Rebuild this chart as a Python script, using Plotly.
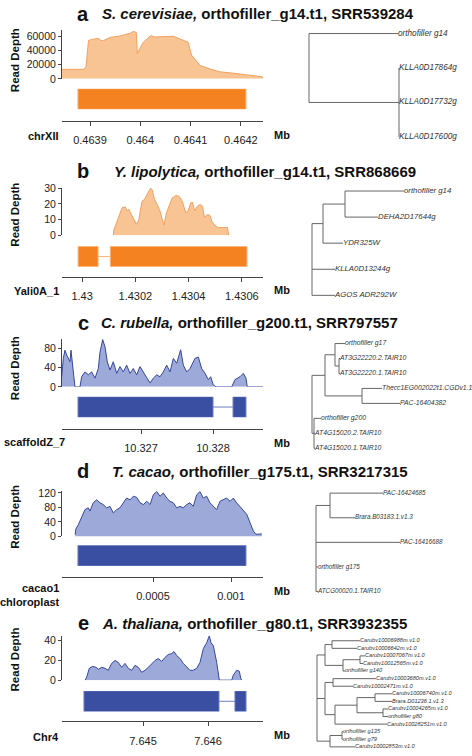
import plotly.graph_objects as go

W, H = 472, 756
FONT = "Liberation Sans, Arial, sans-serif"

# ---------------- data ----------------
# coverage: genomic position (bp) and read depth
a_pos = [463844, 463887, 463892, 463897, 463903, 463917, 463920, 463926, 463940, 463960,
         463980, 463986, 463992, 463994, 463998, 464006, 464021, 464029, 464066, 464079,
         464095, 464102, 464119, 464139, 464158, 464185, 464212, 464231, 464244]
a_depth = [13500, 13500, 17000, 54500, 56000, 57500, 55000, 54000, 59000, 61000,
           65000, 67500, 66000, 36000, 42000, 52000, 61500, 59500, 60500, 57000,
           52000, 33500, 19000, 14000, 10000, 8000, 6000, 4000, 2500]

b_pos = [1430118, 1430118, 1430125, 1430137, 1430150, 1430162, 1430169, 1430175, 1430185, 1430194,
         1430204, 1430213, 1430225, 1430234, 1430244, 1430257, 1430263, 1430272, 1430282, 1430292,
         1430301, 1430307, 1430317, 1430326, 1430338, 1430351, 1430364, 1430376, 1430382, 1430389,
         1430398, 1430408, 1430414, 1430423, 1430433, 1430443, 1430452, 1430460, 1430471, 1430481,
         1430489, 1430502, 1430508, 1430546, 1430550, 1430550]
b_depth = [0, 3, 6, 11, 17.5, 18, 15.5, 16.5, 13.3, 11,
           7, 10, 21.7, 22.7, 25.8, 30, 29, 22.7, 19.6, 15.5,
           10.2, 6.5, 14.4, 18.5, 23.7, 25.2, 24.8, 21.7, 18.5, 14.4,
           15.5, 20.6, 21, 15.5, 18.5, 19.6, 18.5, 11.2, 13.3, 12.3,
           8.1, 6, 5, 5, 2, 0]

c_pos = [10325899, 10325921, 10325944, 10325968, 10326014, 10326028, 10326060, 10326083, 10326153, 10326176,
         10326222, 10326268, 10326315, 10326361, 10326407, 10326431, 10326468, 10326500, 10326532, 10326569,
         10326615, 10326663, 10326708, 10326754, 10326801, 10326847, 10326893, 10326940, 10326986, 10327032,
         10327079, 10327125, 10327171, 10327218, 10327264, 10327310, 10327357, 10327403, 10327449, 10327496,
         10327551, 10327588, 10327635, 10327681, 10327750, 10327796, 10327843, 10327889, 10327935, 10327968,
         10328004, 10328042, 10328260, 10328306, 10328375, 10328421, 10328458, 10328476, 10328699]
c_depth = [21, 59, 76, 66, 52, 76, 31, 0, 0, 21,
           31, 25, 31, 18, 38, 72, 98, 83, 52, 35,
           52, 28, 42, 31, 45, 28, 38, 25, 42, 31,
           18, 8, 18, 25, 21, 31, 45, 31, 59, 49,
           77, 45, 31, 38, 59, 62, 38, 28, 15, 21,
           4, 0, 0, 15, 21, 28, 18, 0, 0]

d_pos = [1, 5, 21, 43, 64, 85, 96, 117, 139, 160,
         181, 203, 224, 246, 267, 288, 310, 331, 353, 374,
         395, 417, 438, 460, 481, 502, 524, 545, 566, 588,
         609, 630, 652, 673, 694, 716, 737, 758, 780, 801,
         822, 844, 865, 886, 908, 929, 951, 972, 994, 1015,
         1036, 1058, 1079, 1101, 1122, 1143, 1160, 1175, 1197]
d_depth = [5, 20, 32, 56, 74, 79, 70, 93, 101, 93,
           88, 79, 83, 65, 74, 79, 93, 106, 101, 111,
           108, 93, 88, 97, 88, 115, 124, 111, 120, 106,
           97, 93, 79, 83, 79, 88, 93, 83, 115, 124,
           106, 111, 93, 83, 74, 97, 101, 106, 97, 106,
           93, 83, 74, 61, 38, 15, 6, 6, 7]

e_pos = [7644108, 7644134, 7644174, 7644226, 7644277, 7644312, 7644365, 7644415, 7644466, 7644518,
         7644569, 7644620, 7644672, 7644723, 7644774, 7644826, 7644877, 7644928, 7644980, 7645031,
         7645082, 7645134, 7645185, 7645235, 7645288, 7645338, 7645389, 7645442, 7645477, 7645518,
         7645569, 7645620, 7645672, 7645723, 7645774, 7645826, 7645877, 7645928, 7645980, 7646020,
         7646046, 7646082, 7646134, 7646158, 7646174, 7646365, 7646389, 7646442, 7646482, 7646503,
         7646518]
e_depth = [0, 3, 12, 14, 13, 11, 13, 12, 10, 17,
           20, 18, 13, 17, 12, 10, 15, 13, 8, 10,
           13, 17, 20, 22, 19, 23, 26, 27, 29, 25,
           22, 17, 13, 10, 10, 12, 18, 32, 38, 45,
           38, 35, 18, 5, 0, 0, 5, 10, 9, 2,
           0]

# gene models: exon start/end (bp)
a_exons = [(463876, 464210)]
b_exons = [(1429985, 1430060), (1430106, 1430619)]
c_exons = [(10326125, 10328000), (10328278, 10328458)]
d_exons = [(19, 1096)]
e_exons = [(7644092, 7646169), (7646415, 7646585)]

# tick values / labels
a_xticks, a_xlabels = [0.4639, 0.464, 0.4641, 0.4642], ["0.4639", "0.464", "0.4641", "0.4642"]
b_xticks, b_xlabels = [1.43, 1.4302, 1.4304, 1.4306], ["1.43", "1.4302", "1.4304", "1.4306"]
c_xticks, c_xlabels = [10.327, 10.328], ["10.327", "10.328"]
d_xticks, d_xlabels = [0.0005, 0.001], ["0.0005", "0.001"]
e_xticks, e_xlabels = [7.645, 7.646], ["7.645", "7.646"]
a_yticks = [0, 20000, 40000, 60000]
b_yticks = [0, 10, 20, 30]
c_yticks = [0, 40, 80]
d_yticks = [0, 40, 80, 120]
e_yticks = [0, 20, 40]

# gene trees: (label, branch length, children)
tree_a = [("orthofiller g14", 89, None),
          ("", 90, [("KLLA0D17864g", 0, None), ("KLLA0D17732g", 0, None), ("KLLA0D17600g", 0, None)])]
tree_b = [("", 11, [("", 22, [("orthofiller g14", 59, None), ("DEHA2D17644g", 33, None)]),
                    ("YDR325W", 20, None)]),
          ("KLLA0D13244g", 23, None),
          ("AGOS ADR292W", 23, None)]
tree_c = [("", 13, [("", 10, [("orthofiller g17", 10, None),
                              ("", 4, [("AT3G22220.2.TAIR10", 1, None), ("AT3G22220.1.TAIR10", 1, None)])]),
                    ("", 37, [("Thecc1EG002022t1.CGDv1.1", 20, None), ("PAC-16404382", 38, None)])]),
          ("", 2, [("orthofiller g200", 7, None), ("AT4G15020.2.TAIR10", 1, None),
                   ("AT4G15020.1.TAIR10", 1, None)])]
tree_d = [("", 14, [("PAC-16424685", 53, None), ("Brara.B03183.1.v1.3", 25, None)]),
          ("PAC-16416688", 84, None),
          ("orthofiller g175", 2, None),
          ("ATCG00020.1.TAIR10", 2, None)]
tree_e = [("", 8, [("", 7, [("Carubv10006988m.v1.0", 28, None), ("Carubv10006642m.v1.0", 25, None)]),
                   ("", 18, [("", 17, [("Carubv10007067m.v1.0", 5, None), ("Carubv10012565m.v1.0", 3, None)]),
                             ("orthofiller g140", 2, None)])]),
          ("", 8, [("", 8, [("Carubv10003680m.v1.0", 43, None), ("Carubv10002471m.v1.0", 20, None)]),
                   ("", 10, [("", 22, [("", 18, [("Carubv10006740m.v1.0", 17, None), ("Brara.D01236.1.v1.3", 17, None)]),
                                       ("", 26, [("Carubv10004265m.v1.0", 5, None), ("orthofiller g80", 5, None)])]),
                             ("Carubv10028251m.v1.0", 52, None)])]),
          ("", 13, [("", 12, [("orthofiller g135", 1, None), ("orthofiller g79", 1, None)]),
                    ("Carubv10002853m.v1.0", 25, None)])]

ORANGE = dict(gene="#F58220", edge="#F9B57A", fill="#F9C494", line="#F0A060")
BLUE = dict(gene="#3A4EA2", edge="#6F7EC0", fill="#9DAAD9", line="#34479B")

panels = [
    dict(letter="a", species="S. cerevisiae,", rest=" orthofiller_g14.t1, SRR539284", tx=100, ty=8,
         chrom="chrXII", cx=61, cy=132, pos=a_pos, depth=a_depth, exons=a_exons, col=ORANGE,
         xr=[0.4638443, 0.4642439], xt=a_xticks, xl=a_xlabels, yt=a_yticks, yr=[0, 70000],
         cov=(24, 74), gene=(84, 105), axy=117, rd=55,
         tree=tree_a, root=309, leaf0=28, dy=35, tfs=8.2),
    dict(letter="b", species="Y. lipolytica,", rest=" orthofiller_g14.t1, SRR868669", tx=112, ty=168,
         chrom="Yali0A_1", cx=61, cy=290, pos=b_pos, depth=b_depth, exons=b_exons, col=ORANGE,
         xr=[1.4299245, 1.4306792], xt=b_xticks, xl=b_xlabels, yt=b_yticks, yr=[0, 30],
         cov=(185, 233), gene=(244, 265), axy=275, rd=212,
         tree=tree_b, root=312, leaf0=188, dy=26.5, tfs=7.8),
    dict(letter="c", species="C. rubella,", rest=" orthofiller_g200.t1, SRR797557", tx=99, ty=322,
         chrom="scaffoldZ_7", cx=67, cy=443, pos=c_pos, depth=c_depth, exons=c_exons, col=BLUE,
         xr=[10.3259028, 10.3286944], xt=c_xticks, xl=c_xlabels, yt=c_yticks, yr=[0, 100],
         cov=(338, 387), gene=(397, 418), axy=430, rd=368,
         tree=tree_c, root=312, leaf0=343, dy=15.2, tfs=6.8),
    dict(letter="d", species="T. cacao,", rest=" orthofiller_g175.t1, SRR3217315", tx=110, ty=473,
         chrom="cacao1<br>chloroplast", cx=62, cy=598, pos=d_pos, depth=d_depth, exons=d_exons, col=BLUE,
         xr=[-0.0000833, 0.0012051], xt=d_xticks, xl=d_xlabels, yt=d_yticks, yr=[0, 125],
         cov=(493, 539), gene=(548, 569), axy=580, rd=519,
         tree=tree_d, root=316, leaf0=495, dy=25, tfs=6.3),
    dict(letter="e", species="A. thaliana,", rest=" orthofiller_g80.t1, SRR3932355", tx=100, ty=627,
         chrom="Chr4", cx=61, cy=743, pos=e_pos, depth=e_depth, exons=e_exons, col=BLUE,
         xr=[7.6437538, 7.6468462], xt=e_xticks, xl=e_xlabels, yt=e_yticks, yr=[0, 45],
         cov=(640, 685), gene=(696, 717), axy=727, rd=664,
         tree=tree_e, root=317, leaf0=645, dy=7.7, tfs=5.6),
]


def py(v):
    return 1 - v / H


def tree_layout(children, x0, y0, dy):
    xs, ys, labels = [], [], []
    n = [0]

    def walk(node, xp):
        name, length, kids = node
        x = xp + length
        if kids is None:
            y = y0 + n[0] * dy
            n[0] += 1
            labels.append((x, y, name))
        else:
            cy = [walk(k, x) for k in kids]
            y = (cy[0] + cy[-1]) / 2
            xs.extend([x, x, None]); ys.extend([cy[0], cy[-1], None])
        xs.extend([xp, x, None]); ys.extend([y, y, None])
        return y

    top = [walk(c, x0) for c in children]
    xs.extend([x0, x0, None]); ys.extend([top[0], top[-1], None])
    return xs, ys, labels


fig = go.Figure()
annotations = []
layout_axes = {}

for k, p in enumerate(panels):
    xn, yc, yg = k + 1, 2 * k + 1, 2 * k + 2
    xref = "x" if xn == 1 else f"x{xn}"
    ycref = "y" if yc == 1 else f"y{yc}"
    ygref = f"y{yg}"
    col = p["col"]

    fig.add_trace(go.Scatter(
        x=[v / 1e6 for v in p["pos"]], y=p["depth"], xaxis=xref, yaxis=ycref,
        mode="lines", line=dict(color=col["line"], width=1),
        fill="tozeroy", fillcolor=col["fill"], hoverinfo="skip", showlegend=False))

    ex = p["exons"]
    for s, e in ex:
        fig.add_shape(type="rect", xref=xref, yref=ygref, x0=s / 1e6, x1=e / 1e6, y0=0, y1=1,
                      fillcolor=col["gene"], line=dict(color=col["edge"], width=1))
    for (s1, e1), (s2, e2) in zip(ex, ex[1:]):
        fig.add_shape(type="line", xref=xref, yref=ygref, x0=e1 / 1e6, x1=s2 / 1e6, y0=0.5, y1=0.5,
                      line=dict(color=col["edge"], width=1))

    layout_axes["xaxis" if xn == 1 else f"xaxis{xn}"] = dict(
        domain=[62 / W, 263 / W], range=p["xr"], anchor="free", position=py(p["axy"]),
        showline=True, linecolor="#444", linewidth=1, ticks="outside", ticklen=4, tickcolor="#444",
        tickvals=p["xt"], ticktext=p["xl"], tickfont=dict(size=11, color="#222"),
        ticklabelstandoff=5, showgrid=False, zeroline=False, fixedrange=True)
    layout_axes["yaxis" if yc == 1 else f"yaxis{yc}"] = dict(
        domain=[py(p["cov"][1]), py(p["cov"][0])], range=p["yr"], anchor=xref,
        showline=True, linecolor="#444", linewidth=1, ticks="outside", ticklen=3, tickcolor="#444",
        tickvals=p["yt"], tickformat="d", tickfont=dict(size=10.5, color="#222"),
        showgrid=False, zeroline=False, fixedrange=True)
    layout_axes[f"yaxis{yg}"] = dict(
        domain=[py(p["gene"][1]), py(p["gene"][0])], range=[0, 1], anchor=xref, visible=False,
        fixedrange=True)

    # texts
    annotations += [
        dict(x=83 / W, y=py(p["ty"]), text=f"<b>{p['letter']}</b>", font=dict(size=20, color="#111"),
             xanchor="center", yanchor="middle"),
        dict(x=p["tx"] / W, y=py(p["ty"]), text=f"<b><i>{p['species']}</i>{p['rest']}</b>",
             font=dict(size=15, color="#111"), xanchor="left", yanchor="middle"),
        dict(x=15 / W, y=py(p["rd"]), text="<b>Read Depth</b>", textangle=-90,
             font=dict(size=11.5, color="#111"), xanchor="center", yanchor="middle"),
        dict(x=p["cx"] / W, y=py(p["cy"]), text=f"<b>{p['chrom']}</b>", align="right",
             font=dict(size=11, color="#111"), xanchor="right", yanchor="middle"),
        dict(x=282 / W, y=py(p["axy"] + 14), text="<b>Mb</b>",
             font=dict(size=11, color="#111"), xanchor="center", yanchor="middle"),
    ]

    # tree
    xs, ys, labels = tree_layout(p["tree"], p["root"], p["leaf0"], p["dy"])
    fig.add_trace(go.Scatter(x=xs, y=ys, xaxis="x6", yaxis="y11", mode="lines",
                             line=dict(color="#666", width=1), hoverinfo="skip", showlegend=False))
    fig.add_trace(go.Scatter(x=[l[0] for l in labels], y=[l[1] for l in labels], xaxis="x6", yaxis="y11",
                             mode="text", text=[f"<i>{l[2]}</i>" for l in labels],
                             textposition="middle right", textfont=dict(size=p["tfs"], color="#333"),
                             hoverinfo="skip", showlegend=False, cliponaxis=False))

layout_axes["xaxis6"] = dict(domain=[0, 1], range=[0, W], anchor="y11", visible=False, fixedrange=True)
layout_axes["yaxis11"] = dict(domain=[0, 1], range=[H, 0], anchor="x6", visible=False, fixedrange=True)

fig.update_layout(
    width=W, height=H,
    margin=dict(l=0, r=0, t=0, b=0),
    paper_bgcolor="white", plot_bgcolor="rgba(0,0,0,0)",
    font=dict(family=FONT, color="#222"),
    annotations=[dict(a, xref="paper", yref="paper", showarrow=False) for a in annotations],
    hovermode=False,
    **layout_axes,
)

fig.write_html("out.html", config={"displayModeBar": False},
               post_script="document.body.style.margin='0';document.body.style.overflow='hidden';")
